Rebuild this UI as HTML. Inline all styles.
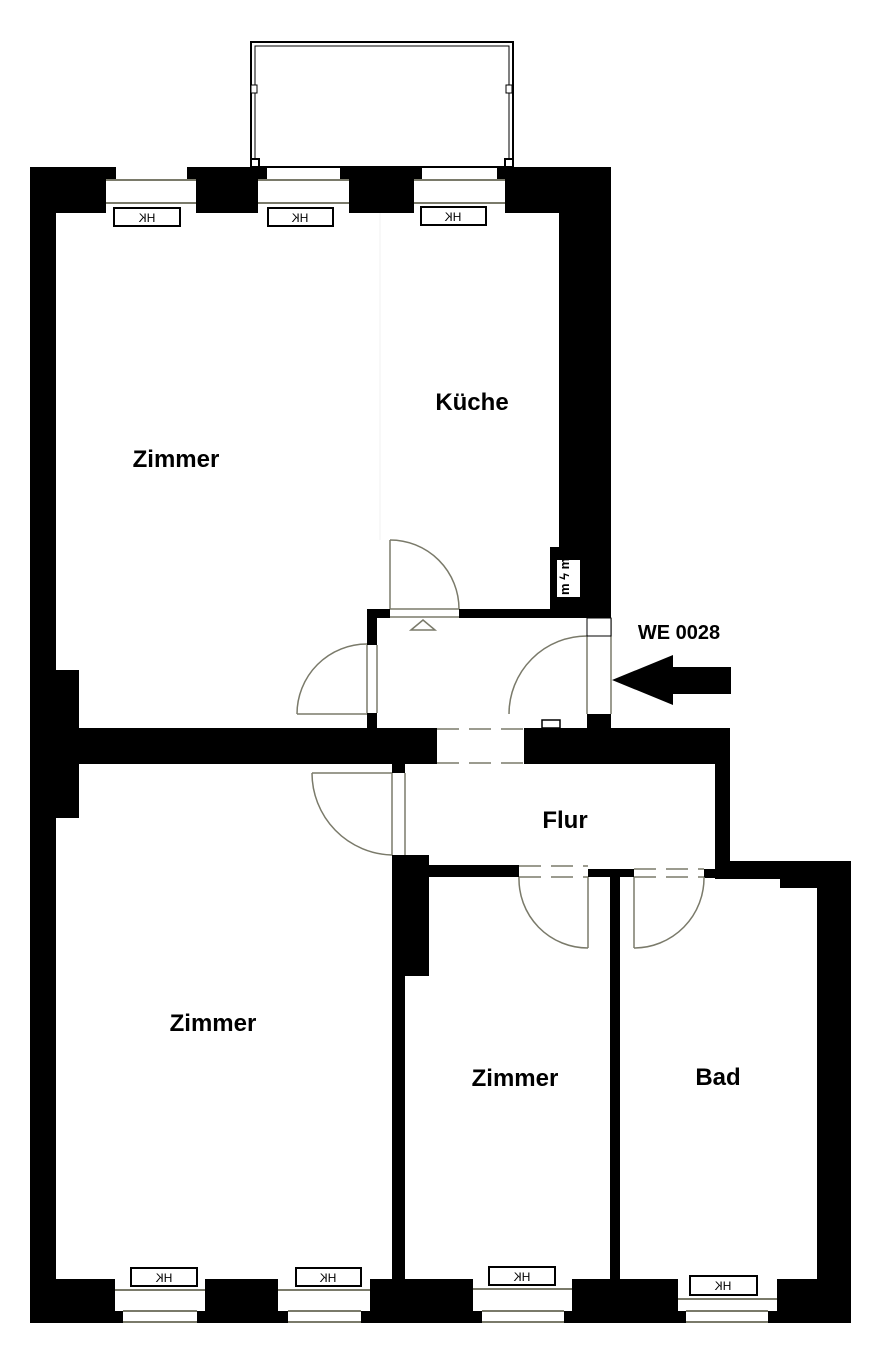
<!DOCTYPE html>
<html><head><meta charset="utf-8"><style>
html,body{margin:0;padding:0;background:#fff;}
svg{display:block;}
text{font-family:"Liberation Sans",sans-serif;}
</style></head><body>
<svg width="885" height="1354" viewBox="0 0 885 1354" xmlns="http://www.w3.org/2000/svg">
<rect width="885" height="1354" fill="#fff"/>
<g fill="none" stroke="#000">
<rect x="251" y="42" width="262" height="125" stroke-width="2"/>
<rect x="255" y="46" width="254" height="121" stroke-width="1"/>
</g>
<rect x="251" y="85" width="6" height="8" fill="#fff" stroke="#000"/>
<rect x="506" y="85" width="6" height="8" fill="#fff" stroke="#000"/>
<rect x="251" y="159" width="8" height="8" fill="#fff" stroke="#000" stroke-width="2"/>
<rect x="505" y="159" width="8" height="8" fill="#fff" stroke="#000" stroke-width="2"/>
<g fill="#000">
<rect x="30" y="167" width="86" height="13"/><rect x="30" y="167" width="76" height="46"/>
<rect x="187" y="167" width="80" height="13"/><rect x="196" y="167" width="62" height="46"/>
<rect x="340" y="167" width="82" height="13"/><rect x="349" y="167" width="65" height="46"/>
<rect x="497" y="167" width="114" height="13"/><rect x="505" y="167" width="106" height="46"/>
<rect x="30" y="167" width="26" height="1156"/>
<rect x="30" y="670" width="49" height="148"/>
<rect x="559" y="167" width="52" height="451"/>
<rect x="550" y="547" width="61" height="71"/>
<rect x="367" y="609" width="23" height="9"/>
<rect x="459" y="609" width="152" height="9"/>
<rect x="367" y="609" width="10" height="36"/>
<rect x="367" y="713" width="10" height="15"/>
<rect x="587" y="714" width="24" height="14"/>
<rect x="30" y="728" width="407" height="36"/>
<rect x="524" y="728" width="206" height="36"/>
<rect x="715" y="728" width="15" height="150"/>
<rect x="715" y="861" width="136" height="18"/>
<rect x="780" y="861" width="71" height="27"/>
<rect x="817" y="861" width="34" height="462"/>
<rect x="392" y="865" width="127" height="12"/>
<rect x="588" y="869" width="46" height="8"/>
<rect x="704" y="869" width="20" height="9"/>
<rect x="392" y="855" width="37" height="121"/>
<rect x="392" y="764" width="13" height="9"/>
<rect x="392" y="855" width="13" height="468"/>
<rect x="610" y="869" width="10" height="454"/>
<rect x="30" y="1279" width="85" height="44"/>
<rect x="205" y="1279" width="73" height="44"/>
<rect x="370" y="1279" width="103" height="44"/>
<rect x="572" y="1279" width="106" height="44"/>
<rect x="777" y="1279" width="74" height="44"/>
<rect x="115" y="1311" width="8" height="12"/><rect x="197" y="1311" width="8" height="12"/>
<rect x="278" y="1311" width="10" height="12"/><rect x="361" y="1311" width="9" height="12"/>
<rect x="473" y="1311" width="9" height="12"/><rect x="564" y="1311" width="8" height="12"/>
<rect x="678" y="1311" width="8" height="12"/><rect x="768" y="1311" width="9" height="12"/>
</g>
<g stroke="#7a7a6a" stroke-width="2">
<line x1="106" y1="180" x2="196" y2="180"/><line x1="106" y1="203" x2="196" y2="203"/>
<line x1="258" y1="180" x2="349" y2="180"/><line x1="258" y1="203" x2="349" y2="203"/>
<line x1="414" y1="180" x2="505" y2="180"/><line x1="414" y1="203" x2="505" y2="203"/>
<line x1="115" y1="1290" x2="205" y2="1290"/><line x1="123" y1="1311" x2="197" y2="1311"/><line x1="123" y1="1322" x2="197" y2="1322"/>
<line x1="278" y1="1290" x2="370" y2="1290"/><line x1="288" y1="1311" x2="361" y2="1311"/><line x1="288" y1="1322" x2="361" y2="1322"/>
<line x1="473" y1="1289" x2="572" y2="1289"/><line x1="482" y1="1311" x2="564" y2="1311"/><line x1="482" y1="1322" x2="564" y2="1322"/>
<line x1="678" y1="1299" x2="777" y2="1299"/><line x1="686" y1="1311" x2="768" y2="1311"/><line x1="686" y1="1322" x2="768" y2="1322"/>
</g>
<line x1="380" y1="213" x2="380" y2="540" stroke="#f2f2f2" stroke-width="1"/>
<g fill="#fff" stroke="#000" stroke-width="2">
<rect x="114" y="208" width="66" height="18"/><rect x="268" y="208" width="65" height="18"/><rect x="421" y="207" width="65" height="18"/>
<rect x="131" y="1268" width="66" height="18"/><rect x="296" y="1268" width="65" height="18"/><rect x="489" y="1267" width="66" height="18"/><rect x="690" y="1276" width="67" height="19"/>
</g>
<g font-size="12" text-anchor="middle" fill="#000">
<text transform="translate(147,222) scale(-1,1)">HK</text>
<text transform="translate(300,222) scale(-1,1)">HK</text>
<text transform="translate(453,221) scale(-1,1)">HK</text>
<text transform="translate(164,1282) scale(-1,1)">HK</text>
<text transform="translate(328,1282) scale(-1,1)">HK</text>
<text transform="translate(522,1281) scale(-1,1)">HK</text>
<text transform="translate(723,1290) scale(-1,1)">HK</text>
</g>
<rect x="557" y="560" width="23" height="37" fill="#fff"/>
<text font-size="13" font-weight="bold" fill="#000" transform="translate(569,595) rotate(-90)">m ϟ m</text>
<g fill="none" stroke="#7a7a6a" stroke-width="1.5">
<line x1="390" y1="540" x2="390" y2="609"/><path d="M390 540 A69 69 0 0 1 459 609"/>
<line x1="390" y1="609" x2="459" y2="609"/><line x1="390" y1="617" x2="459" y2="617"/>
<path d="M411 630 L423 620 L435 630 Z"/>
<line x1="297" y1="714" x2="367" y2="714"/><path d="M297 714 A70 70 0 0 1 367 644"/>
<line x1="367" y1="645" x2="367" y2="713"/><line x1="377" y1="645" x2="377" y2="713"/>
<line x1="587" y1="636" x2="587" y2="714"/><path d="M587 636 A78 78 0 0 0 509 714"/>
<line x1="611" y1="618" x2="611" y2="714"/>
<line x1="312" y1="773" x2="392" y2="773"/><path d="M312 773 A82 82 0 0 0 392 855"/>
<line x1="392" y1="773" x2="392" y2="855"/><line x1="405" y1="773" x2="405" y2="855"/>
<line x1="588" y1="877" x2="588" y2="948"/><path d="M588 948 A69 69 0 0 1 519 877"/>
<line x1="634" y1="877" x2="634" y2="948"/><path d="M634 948 A70 70 0 0 0 704 877"/>
<line x1="437" y1="729" x2="524" y2="729" stroke-dasharray="22 10"/>
<line x1="437" y1="763" x2="524" y2="763" stroke-dasharray="22 10"/>
<line x1="519" y1="866" x2="588" y2="866" stroke-dasharray="22 10"/>
<line x1="519" y1="877" x2="588" y2="877" stroke-dasharray="22 10"/>
<line x1="634" y1="869" x2="704" y2="869" stroke-dasharray="22 10"/>
<line x1="634" y1="877" x2="704" y2="877" stroke-dasharray="22 10"/>
</g>
<rect x="587" y="618" width="24" height="18" fill="#fff" stroke="#000" stroke-width="1"/>
<rect x="542" y="720" width="18" height="8" fill="#fff" stroke="#000" stroke-width="1.5"/>
<path d="M612 680 L673 655 L673 667 L731 667 L731 694 L673 694 L673 705 Z" fill="#000"/>
<g font-weight="bold" font-size="24" fill="#000" text-anchor="middle">
<text x="472" y="410">Küche</text>
<text x="176" y="467">Zimmer</text>
<text x="565" y="828">Flur</text>
<text x="213" y="1031">Zimmer</text>
<text x="515" y="1086">Zimmer</text>
<text x="718" y="1085">Bad</text>
<text x="679" y="639" font-size="20">WE 0028</text>
</g>
</svg>
</body></html>
